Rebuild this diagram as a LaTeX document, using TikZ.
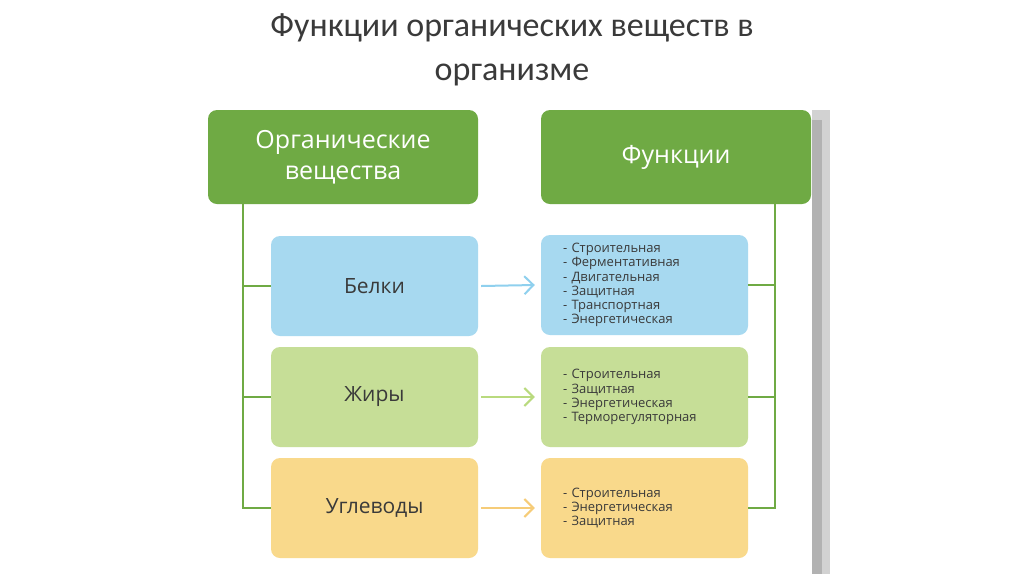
\documentclass[tikz,border=0pt]{standalone}
\usepackage{fontspec}
\setmainfont{Open Sans}
\newfontfamily\titlefont{Carlito}
\usetikzlibrary{arrows.meta}
\definecolor{hdr}{HTML}{6FAA44}
\definecolor{bl}{HTML}{A7D9F0}
\definecolor{gr}{HTML}{C6DE97}
\definecolor{yl}{HTML}{F9D98B}
\definecolor{blA}{HTML}{8FD0EE}
\definecolor{grA}{HTML}{B9DA7E}
\definecolor{ylA}{HTML}{F6CC78}
\definecolor{txt}{HTML}{3A3A3A}
\tikzset{
 box/.style={rounded corners=9pt,minimum width=207pt,minimum height=100pt,inner sep=0pt,align=center},
 hbox/.style={box,fill=hdr,minimum width=270pt,minimum height=94pt,text=white,font=\fontsize{25}{31}\selectfont},
 lbox/.style={box,font=\fontsize{21}{24}\selectfont,text=txt},
 fbox/.style={box,font=\fontsize{13}{14.2}\selectfont,text=txt,align=left,text width=163pt,inner xsep=22pt},
 conn/.style={hdr,line width=2.2pt},
 arr/.style={line width=2pt,-{Straight Barb[length=9pt,width=18pt]}}
}
\begin{document}
\begin{tikzpicture}[x=1pt,y=-1pt]
\useasboundingbox (0,0) rectangle (1024,574);
\fill[white] (0,0) rectangle (1024,574);
\fill[gray!35] (812,110) rectangle (830,574);
\fill[gray!60] (812,120) rectangle (822,574);
\node[font=\titlefont\fontsize{34}{44}\selectfont,text=txt,align=center] (title) at (512,50) {Функции органических веществ в\\организме};
\node[hbox] (lh) at (343,157) {Органические\\вещества};
\node[hbox] (rh) at (676,157) {Функции};
\node[lbox,fill=bl] (b1) at (374.5,286) {Белки};
\node[lbox,fill=gr] (b2) at (374.5,397) {Жиры};
\node[lbox,fill=yl] (b3) at (374.5,508) {Углеводы};
\node[fbox,fill=bl] (f1) at (644.5,285) {- Строительная\\- Ферментативная\\- Двигательная\\- Защитная\\- Транспортная\\- Энергетическая};
\node[fbox,fill=gr] (f2) at (644.5,397) {- Строительная\\- Защитная\\- Энергетическая\\- Терморегуляторная};
\node[fbox,fill=yl] (f3) at (644.5,508) {- Строительная\\- Энергетическая\\- Защитная};
\coordinate (lt) at (243,203);
\coordinate (lb) at (243,509);
\draw[conn] (lt) -- (lb);
\draw[conn] (b1.west) -- (b1.west-|lt);
\draw[conn] (b2.west) -- (b2.west-|lt);
\draw[conn] (b3.west) -- (b3.west-|lt);
\coordinate (rt) at (775,204);
\coordinate (rb) at (775,509);
\draw[conn] (rt) -- (rb);
\draw[conn] (f1.east) -- (f1.east-|rt);
\draw[conn] (f2.east) -- (f2.east-|rt);
\draw[conn] (f3.east) -- (f3.east-|rt);
\draw[arr,blA] ([xshift=3pt]b1.east) -- ([xshift=-6pt]f1.west);
\draw[arr,grA] ([xshift=3pt]b2.east) -- ([xshift=-6pt]f2.west);
\draw[arr,ylA] ([xshift=3pt]b3.east) -- ([xshift=-6pt]f3.west);
\end{tikzpicture}
\end{document}
